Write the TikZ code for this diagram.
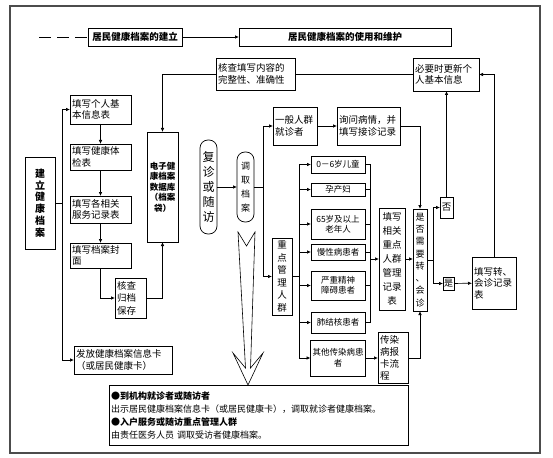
\documentclass[tikz,border=0pt]{standalone}
\usepackage{fontspec}
\setmainfont{Noto Sans CJK SC}
\usetikzlibrary{arrows.meta}

\begin{document}
\begin{tikzpicture}[x=1pt,y=-1pt]
    \tikzstyle{box}=[draw=black, rectangle, line width=0.7pt, inner sep=2pt, outer sep=0pt, font=\fontsize{9.5}{11.5}\selectfont, align=left]
    \tikzstyle{vbox}=[box, align=center, inner sep=1pt]
    \tikzstyle{pill}=[vbox, rounded corners=8pt]
    \tikzstyle{head}=[box, align=center, font=\fontsize{9.5}{11.5}\selectfont\bfseries]
    \tikzstyle{group}=[box, align=center, font=\fontsize{8.5}{10.5}\selectfont]
    \tikzstyle{edge}=[draw, line width=0.7pt, -{Latex[length=4pt,width=3.5pt]}]
    \tikzstyle{link}=[draw, line width=0.7pt]

    \useasboundingbox (0,0) rectangle (553,457);
    \draw[black!70, line width=1.2pt] (10,6) rectangle (540,453);

    % top row
    \coordinate (dash) at (39,37);
    \node [head, minimum width=94, minimum height=18] (build) at (135,37) {居民健康档案的建立};
    \node [head, minimum width=212, minimum height=18] (use) at (345,37) {居民健康档案的使用和维护};
    \path[link, dash pattern=on 12pt off 6pt] (dash) -- (build.west);
    \path[edge] (build.east) -- (use.west);

    % building the record
    \node [vbox, font=\fontsize{10}{11.7}\selectfont\bfseries, minimum width=30, minimum height=92] (establish) at (40,203) {建\\立\\健\\康\\档\\案};
    \node [box, text width=57, minimum height=29] (basic) at (100.5,109.5) {填写个人基\\本信息表};
    \node [box, text width=57, minimum height=26] (exam) at (100.5,157) {填写健康体\\检表};
    \node [box, text width=57, minimum height=27] (service) at (100.5,209.5) {填写各相关\\服务记录表};
    \node [box, text width=57, minimum height=25] (cover) at (100.5,255.5) {填写档案封\\面};
    \node [box, text width=27, minimum height=40, font=\fontsize{9.5}{12.5}\selectfont] (file) at (130.5,298) {核查\\归档\\保存};
    \node [box, text width=94, minimum height=28] (card) at (123,360) {发放健康档案信息卡\\（或居民健康卡）};
    \node [vbox, font=\fontsize{8.5}{10.5}\selectfont\bfseries, minimum width=31, minimum height=110] (db) at (162.5,187) {电子健\\康档案\\数据库\\（档案\\袋）};
    \node [box, text width=75, minimum height=32] (check) at (255.5,74) {核查填写内容的\\完整性、准确性};
    \node [box, text width=62, minimum height=33] (update) at (446,74.5) {必要时更新个\\人基本信息};

    \coordinate (lspine) at (62,203);
    \path[link] (establish.east) -- (lspine);
    \path[edge] (lspine) |- (basic.west);
    \path[edge] (lspine) |- (card.west);
    \path[edge] (basic) -- (exam);
    \path[edge] (exam) -- (service);
    \path[edge] (service) -- (cover);
    \path[edge] (cover.south) |- (file.west);
    \path[edge] (file.east) -| (db.south);
    \path[edge] (check.west) -| (db.north);
    \path[link] (check.east) -- (check.east -| update.west);

    % using the record
    \node [pill, font=\fontsize{12}{15}\selectfont, minimum width=17, minimum height=94] (revisit) at (208.5,187) {复\\诊\\或\\随\\访};
    \node [pill, font=\fontsize{9}{14}\selectfont, minimum width=17, minimum height=70] (fetch) at (245.5,187) {调\\取\\档\\案};
    \node [box, text width=40, minimum height=38] (general) at (295,126) {一般人群\\就诊者};
    \node [box, text width=59, minimum height=38] (ask) at (368.5,126) {询问病情，并\\填写接诊记录};
    \node [vbox, font=\fontsize{9.5}{12.5}\selectfont, minimum width=20, minimum height=77] (key) at (282,276.5) {重\\点\\管\\理\\人\\群};

    \node [group, minimum width=54, minimum height=17] (child) at (338,164.5) {0－6岁儿童};
    \node [group, minimum width=54, minimum height=13] (preg) at (338,189.5) {孕产妇};
    \node [group, minimum width=54, minimum height=30] (old) at (338,224) {65岁及以上\\老年人};
    \node [group, minimum width=54, minimum height=16] (chronic) at (338,252) {慢性病患者};
    \node [group, minimum width=54, minimum height=29] (mental) at (338,285.5) {严重精神\\障碍患者};
    \node [group, minimum width=54, minimum height=21] (tb) at (338,322.5) {肺结核患者};
    \node [group, minimum width=54, minimum height=36] (other) at (338,358) {其他传染病患\\者};

    \node [vbox, font=\fontsize{9.5}{14}\selectfont, minimum width=26, minimum height=102] (record) at (392,259) {填写\\相关\\重点\\人群\\管理\\记录\\表};
    \node [box, text width=26, minimum height=51, font=\fontsize{9.5}{12}\selectfont] (report) at (393,358) {传染\\病报\\卡流\\程};
    \node [vbox, font=\fontsize{9}{12.3}\selectfont, minimum width=14, minimum height=102] (need) at (420,260) {是\\否\\需\\要\\转\\、\\会\\诊};
    \node [vbox, minimum width=13, minimum height=21] (no) at (446.5,207.5) {否};
    \node [vbox, font=\fontsize{9}{10}\selectfont, minimum width=11, minimum height=13] (yes) at (448.5,283.5) {是};
    \node [box, text width=40, minimum height=52] (referral) at (494,283) {填写转、\\会诊记录\\表};

    \path[edge] (revisit) -- (fetch);
    \coordinate (ffork) at (263,187);
    \path[link] (fetch) -- (ffork);
    \path[edge] (ffork) |- (general.west);
    \path[edge] (ffork) |- (key.west);
    \path[edge] (general) -- (ask);
    \path[edge] (ask.east) -| (need.north);

    \coordinate (kbus) at (299,276.5);
    \path[link] (key) -- (kbus);
    \path[edge] (kbus) |- (child.west);
    \path[edge] (kbus) |- (preg.west);
    \path[edge] (kbus) |- (old.west);
    \path[edge] (kbus) |- (chronic.west);
    \path[edge] (kbus) |- (mental.west);
    \path[edge] (kbus) |- (tb.west);
    \path[edge] (kbus) |- (other.west);

    \coordinate (rbus) at (370,259);
    \path[link] (child.east) -| (rbus);
    \path[link] (preg.east) -| (rbus);
    \path[link] (old.east) -| (rbus);
    \path[link] (chronic.east) -| (rbus);
    \path[link] (mental.east) -| (rbus);
    \path[link] (tb.east) -| (rbus);
    \path[edge] (rbus) -- (record.west);
    \path[edge] (other) -- (report);
    \path[edge] (record.east) -- (record.east -| need.west);
    \path[edge] (report.east) -| (need.south);

    \coordinate (nfork) at (433,260);
    \path[link] (need) -- (nfork);
    \path[edge] (nfork) |- (no.west);
    \path[edge] (nfork) |- (yes.west);
    \path[edge] (yes) -- (referral);
    \path[edge] (no.north) -- (no.north |- update.south);
    \path[edge] (referral.north) |- (update.east);

    % hollow arrow down to the note
    \draw[line width=0.6pt, fill=white] (238,232) -- (245.5,368) -- (233,353) -- (248,385) -- (263,353) -- (250.5,368) -- (255,232) -- (246.5,246) -- cycle;

    \node [box, text width=295, minimum height=60, font=\fontsize{9}{13}\selectfont] (note) at (258.5,415) {{\bfseries ●到机构就诊者或随访者}\\出示居民健康档案信息卡（或居民健康卡），调取就诊者健康档案。\\{\bfseries ●入户服务或随访重点管理人群}\\由责任医务人员 调取受访者健康档案。};
\end{tikzpicture}
\end{document}
